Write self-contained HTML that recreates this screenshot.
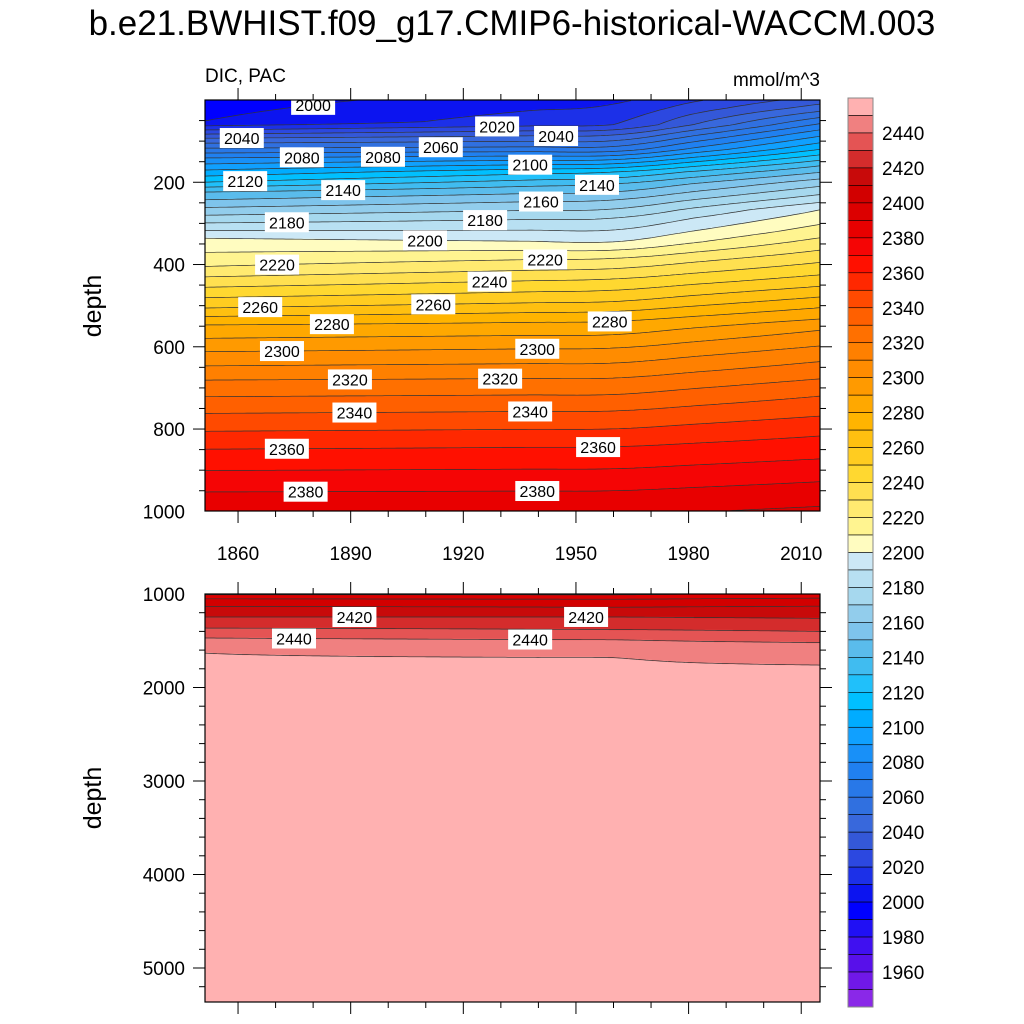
<!DOCTYPE html>
<html><head><meta charset="utf-8"><style>
html,body{margin:0;padding:0;background:#fff;}
#wrap{position:relative;width:1024px;height:1024px;overflow:hidden;font-family:"Liberation Sans",sans-serif;}
canvas{position:absolute;}
svg{position:absolute;left:0;top:0;}
</style></head><body>
<div id="wrap">
<canvas id="c1" width="615" height="411" style="left:205px;top:100px"></canvas>
<canvas id="c2" width="615" height="408" style="left:205px;top:594px"></canvas>
<svg id="sv" width="1024" height="1024"></svg>
</div>
<script>
// ---- data ----
const levels = [];
for (let v = 1950; v <= 2450; v += 10) levels.push(v);
const colorbarColors = ["#8a28e8","#7018e8","#5810ea","#4010f0","#2010f4","#0000ff","#0c14f0","#1c30e8","#2c48e0","#3458d8","#3868dc","#3070e0","#2878e8","#2080f0","#1890f8","#10a0ff","#00acff","#00c0ff","#20c0fa","#40bcf0","#5abcec","#7ec4ec","#92cdec","#a6d8ee","#b8e0f2","#cce8f6","#fffcc0","#fff490","#ffea70","#ffe050","#ffd830","#ffcc20","#ffc010","#ffb400","#ffa800","#ff9a00","#ff8c00","#ff8000","#ff7000","#ff6000","#ff4a00","#ff2800","#ff1000","#f50505","#e80000","#dc0000","#d20000","#c80a0a","#d42c2c","#e45454","#f08080","#ffb1b1"];
const colorbarLabels = [1960,1980,2000,2020,2040,2060,2080,2100,2120,2140,2160,2180,2200,2220,2240,2260,2280,2300,2320,2340,2360,2380,2400,2420,2440];
const profileYears = [1850, 1960, 2015];
const depths1850 = [0,53,73,93,141,200,224,299,336,405,506,547,612,681,762,849,953,1000,1060,1150,1246,1364,1470,1630,2500,5400];
const values1850 = [1995,2000,2020,2040,2080,2120,2140,2180,2200,2220,2260,2280,2300,2320,2340,2360,2380,2388,2402,2412,2420,2430,2440,2450,2460,2470];
const depths1960 = [0,60,85,120,150,175,204,243,287,345,385,435,490,538,603,676,756,843,950,1000,1060,1150,1246,1380,1490,1680,2500,5400];
const values1960 = [2008,2020,2040,2065,2095,2120,2140,2160,2180,2200,2220,2240,2260,2280,2300,2320,2340,2360,2380,2388,2401,2411,2420,2430,2440,2450,2460,2470];
const depths2015 = [0,20,50,80,120,160,200,240,267,320,380,440,505,560,636,720,817,928,1000,1060,1150,1246,1400,1520,1760,2500,5400];
const values2015 = [2035,2045,2065,2085,2110,2140,2165,2185,2200,2215,2235,2255,2280,2300,2320,2340,2360,2380,2392,2403,2412,2419,2430,2440,2450,2460,2470];
const labelLevels = [2000,2040,2080,2080,2060,2020,2040,2100,2120,2140,2140,2160,2180,2180,2200,2220,2220,2240,2260,2260,2280,2280,2300,2300,2320,2320,2340,2340,2360,2360,2380,2380,2420,2420,2440,2440];
const labelYears  = [1880,1861,1877,1898.6,1914,1929,1944.7,1937.8,1861.9,1888,1955.6,1940.7,1873,1925.8,1909.8,1870.4,1941.8,1927,1865.9,1912,1885,1959,1871.7,1939.7,1889.8,1929.8,1891,1937.8,1873,1955.9,1878,1939.7,1891,1952.7,1874.9,1937.8];
const xTicks = [1860,1890,1920,1950,1980,2010];
const yTicksTop = [200,400,600,800,1000];
const yTicksBot = [1000,2000,3000,4000,5000];

// ---- scales ----
const X0=205, X1=820, YR0=1851.2, YR1=2015;
const xs = y => X0 + (y-YR0)*(X1-X0)/(YR1-YR0);
const yTop = d => 100 + d*0.4113;
const yBot = d => 594 + (d-1000)*0.0935;
const profs = [[depths1850,values1850],[depths1960,values1960],[depths2015,values2015]];
function interp(ds, vs, d){
  if (d<=ds[0]) return vs[0];
  for (let i=1;i<ds.length;i++) if (d<=ds[i]) return vs[i-1]+(vs[i]-vs[i-1])*(d-ds[i-1])/(ds[i]-ds[i-1]);
  return vs[vs.length-1];
}
function field(yr, d){
  const [t0,t1,t2]=profileYears;
  const a=interp(profs[0][0],profs[0][1],d), b=interp(profs[1][0],profs[1][1],d), c=interp(profs[2][0],profs[2][1],d);
  const f1 = a+(b-a)*(yr-t0)/(t1-t0);
  const f2 = b+(c-b)*(yr-t1)/(t2-t1);
  let s=(yr-(t1-22))/44; s=Math.max(0,Math.min(1,s)); s=s*s*(3-2*s);
  return f1*(1-s)+f2*s;
}
function colorIdx(v){ let i=0; while(i<levels.length && v>=levels[i]) i++; return i; }
function hex(c){ return [parseInt(c.substr(1,2),16),parseInt(c.substr(3,2),16),parseInt(c.substr(5,2),16)]; }
const rgb = colorbarColors.map(hex);

function fillPanel(id, d0, d1){
  const cv=document.getElementById(id), ctx=cv.getContext('2d');
  const W=cv.width,H=cv.height, img=ctx.createImageData(W,H);
  for (let px=0;px<W;px++){
    const yr = YR0+(px+0.5)*(YR1-YR0)/W;
    for (let py=0;py<H;py++){
      const d = d0+(py+0.5)*(d1-d0)/H;
      const c = rgb[colorIdx(field(yr,d))];
      const o=(py*W+px)*4; img.data[o]=c[0];img.data[o+1]=c[1];img.data[o+2]=c[2];img.data[o+3]=255;
    }
  }
  ctx.putImageData(img,0,0);
}
fillPanel('c1',0,1000*411/411.3);
fillPanel('c2',1000,1000+408/0.0935);

const NS="http://www.w3.org/2000/svg", sv=document.getElementById('sv');
function mk(tag, attrs, parent){ const e=document.createElementNS(NS,tag); for(const k in attrs) e.setAttribute(k,attrs[k]); (parent||sv).appendChild(e); return e; }
function txt(s, x, y, size, anchor, parent){ const t=mk('text',{x:x,y:y,'font-size':size,'text-anchor':anchor||'start','font-family':'Liberation Sans, sans-serif',fill:'#000'},parent); t.textContent=s; return t; }

function crossDepth(yr, lev, d0, d1){
  if (field(yr,d0)>=lev || field(yr,d1)<lev) return null;
  let a=d0,b=d1; for(let i=0;i<30;i++){ const m=(a+b)/2; if(field(yr,m)<lev) a=m; else b=m; } return (a+b)/2;
}
function contours(d0,d1,ymap,name){
  const g=mk('g',{});
  
  
  levels.forEach(lev=>{
    let pts=[];
    for(let x=X0;x<=X1;x+=3){
      const yr=YR0+(x-X0)*(YR1-YR0)/(X1-X0);
      const d=crossDepth(yr,lev,d0,d1);
      if(d!==null) pts.push(x+','+ymap(d).toFixed(1));
    }
    if(pts.length>1){
      const p=mk('polyline',{points:pts.join(' '),fill:'none',stroke:'#333','stroke-width':0.7},g);
      
      
    }
  });
}
contours(0,1000,yTop,'upper-contours');
contours(1000,5364,yBot,'lower-contours');

// contour labels
labelLevels.forEach((lev,i)=>{
  const yr=labelYears[i];
  let d=crossDepth(yr,lev,0,1000), y;
  if(d!==null) y=yTop(d); else { d=crossDepth(yr,lev,1000,5364); if(d===null) return; y=yBot(d); }
  const x=xs(yr);
  const g=mk('g',{});
  
  
  mk('rect',{x:x-22,y:y-10,width:44,height:20,fill:'#fff'},g);
  txt(String(lev),x,y+6,16,'middle',g);
});

// frames and ticks
function frame(top,bot,name){
  const r=mk('rect',{x:X0,y:top,width:X1-X0,height:bot-top,fill:'none',stroke:'#000','stroke-width':1.2});
  
  
  for(let yr=1860;yr<=2010;yr+=10){
    const x=xs(yr), L=(yr%30===0)?12:6;
    mk('line',{x1:x,y1:top,x2:x,y2:top-L,stroke:'#000','stroke-width':1});
    mk('line',{x1:x,y1:bot,x2:x,y2:bot+L,stroke:'#000','stroke-width':1});
  }
}
frame(100,511,'upper-frame');
frame(594,1002,'lower-frame');
for(let d=50;d<1000;d+=50){
  const y=yTop(d), L=(d%200===0)?12:6;
  mk('line',{x1:X0,y1:y,x2:X0-L,y2:y,stroke:'#000'}); mk('line',{x1:X1,y1:y,x2:X1+L,y2:y,stroke:'#000'});
}
for(let d=1200;d<=5364;d+=200){
  const y=yBot(d), L=(d%1000===0)?12:6;
  mk('line',{x1:X0,y1:y,x2:X0-L,y2:y,stroke:'#000'}); mk('line',{x1:X1,y1:y,x2:X1+L,y2:y,stroke:'#000'});
}
xTicks.forEach(v=>{ const t=txt(String(v),xs(v),560,19,'middle');   });
yTicksTop.forEach(v=>{ const t=txt(String(v),185,yTop(v)+7,19,'end');   });
yTicksBot.forEach(v=>{ const t=txt(String(v),185,yBot(v)+7,19,'end');   });

// titles
let t=txt('b.e21.BWHIST.f09_g17.CMIP6-historical-WACCM.003',512,35,35,'middle');  
t=txt('DIC, PAC',205,82,19,'start');  
t=txt('mmol/m^3',820,86,19,'end');  
t=txt('depth',0,0,25,'middle'); t.setAttribute('transform','translate(101,306) rotate(-90)');  
t=txt('depth',0,0,25,'middle'); t.setAttribute('transform','translate(101,798) rotate(-90)');  

// colorbar
const CB_TOP=98, CB_H=17.48, CBX=848, CBW=25;
const cbg=mk('g',{});


colorbarColors.slice().reverse().forEach((c,i)=>{
  const r=mk('rect',{x:CBX,y:CB_TOP+i*CB_H,width:CBW,height:CB_H,fill:c,stroke:'#000','stroke-width':0.6},cbg);
  
  
});
mk('rect',{x:CBX,y:CB_TOP,width:CBW,height:CB_H*colorbarColors.length,fill:'none',stroke:'#888','stroke-width':1},cbg);
colorbarLabels.forEach(v=>{
  const idx=levels.indexOf(v);
  const y=CB_TOP+(colorbarColors.length-1-idx)*CB_H;
  const tt=txt(String(v),882,y+7,19,'start',cbg);
  
  
});
</script>
</body></html>
